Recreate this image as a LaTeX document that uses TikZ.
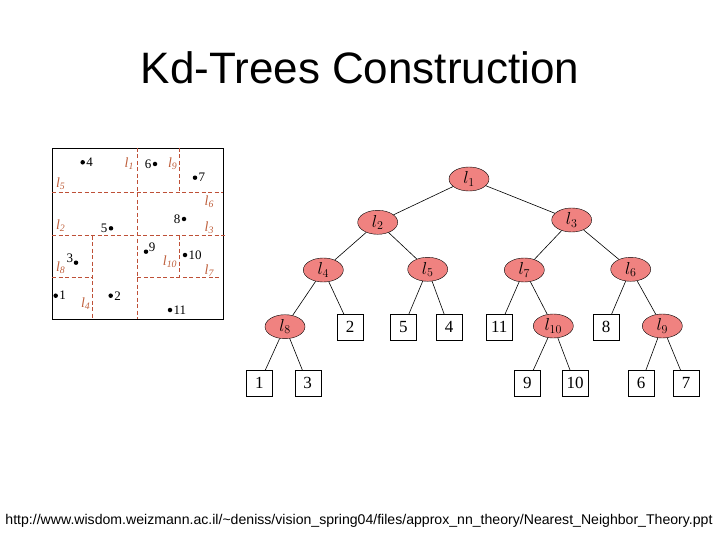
\documentclass[tikz,border=0pt]{standalone}
\usepackage{fontspec}
\setmainfont{Liberation Serif}
\newfontfamily\arialf{Liberation Sans}
\usetikzlibrary{shapes.geometric}
\definecolor{salmon}{RGB}{240,130,128}
\definecolor{cutline}{RGB}{190,80,55}
\definecolor{cutlabel}{RGB}{190,95,60}
\tikzset{
  inode/.style={ellipse,draw=black,fill=salmon,minimum width=40pt,minimum height=24pt,inner sep=0pt,font=\fontsize{18}{18}\selectfont},
  leaf/.style={rectangle,draw=black,fill=white,minimum width=26pt,minimum height=26pt,inner sep=0pt,font=\fontsize{17}{17}\selectfont},
  edge/.style={draw=black,line width=0.6pt},
  cut/.style={draw=cutline,line width=0.9pt,dash pattern=on 4pt off 2.5pt},
  cutlab/.style={text=cutlabel,font=\fontsize{14}{14}\selectfont\itshape,inner sep=0pt},
  pt/.style={circle,fill=black,inner sep=0pt,minimum size=4.5pt},
  ptlab/.style={font=\fontsize{13}{13}\selectfont,inner sep=1pt}
}
\begin{document}
\begin{tikzpicture}[x=1pt,y=-1pt]
\useasboundingbox (0,0) rectangle (720,540);
\node (title) at (360,68) {\arialf\fontsize{44}{44}\selectfont Kd-Trees Construction};
\node (url) at (359,521) {\arialf\fontsize{14.1}{14.1}\selectfont http://www.wisdom.weizmann.ac.il/\textasciitilde deniss/vision\_spring04/files/approx\_nn\_theory/Nearest\_Neighbor\_Theory.ppt};

% left partition
\draw[line width=0.8pt] (52,148) rectangle (223,319);
\draw[cut] (137.3,148) -- (137.3,319);
\draw[cut] (52,192.3) -- (223,192.3);
\draw[cut] (52,235.7) -- (224.5,235.7);
\draw[cut] (179.3,148) -- (179.3,192.3);
\draw[cut] (92.3,235.7) -- (92.3,319);
\draw[cut] (52,277) -- (92.3,277);
\draw[cut] (179.3,235.7) -- (179.3,277.7);
\draw[cut] (137.3,277.7) -- (220,277.7);

\node[cutlab] (c1) at (129.3,164) {l\textsubscript{1}};
\node[cutlab] (c9) at (172.7,164) {l\textsubscript{9}};
\node[cutlab] (c5) at (60.7,183.3) {l\textsubscript{5}};
\node[cutlab] (c6) at (209.3,201.7) {l\textsubscript{6}};
\node[cutlab] (c2) at (60.7,226) {l\textsubscript{2}};
\node[cutlab] (c3) at (209.3,227.3) {l\textsubscript{3}};
\node[cutlab] (c8) at (60.7,267.7) {l\textsubscript{8}};
\node[cutlab] (c10) at (170,261.7) {l\textsubscript{10}};
\node[cutlab] (c7) at (209.3,270.7) {l\textsubscript{7}};
\node[cutlab] (c4) at (85.7,304) {l\textsubscript{4}};

\node[pt] (p4) at (82.7,162.3) {}; \node[ptlab,anchor=west] (q4) at (p4.east) {4};
\node[pt] (p6) at (155,164) {}; \node[ptlab,anchor=east] (q6) at (p6.west) {6};
\node[pt] (p7) at (195,177.7) {}; \node[ptlab,anchor=west] (q7) at (p7.east) {7};
\node[pt] (p8) at (184,219) {}; \node[ptlab,anchor=east] (q8) at (p8.west) {8};
\node[pt] (p5) at (111,228.3) {}; \node[ptlab,anchor=east] (q5) at (p5.west) {5};
\node[pt] (p9) at (146,251.7) {}; \node[ptlab,anchor=south west,inner sep=0.3pt] (q9) at (p9.east) {9};
\node[pt] (p10) at (185,255) {}; \node[ptlab,anchor=west] (q10) at (p10.east) {10};
\node[pt] (p3) at (76,262.7) {}; \node[ptlab,anchor=south east,inner sep=0.3pt] (q3) at (p3.west) {3};
\node[pt] (p1) at (55.7,295.7) {}; \node[ptlab,anchor=west] (q1) at (p1.east) {1};
\node[pt] (p2) at (110.7,295.7) {}; \node[ptlab,anchor=west] (q2) at (p2.east) {2};
\node[pt] (p11) at (170,310) {}; \node[ptlab,anchor=west] (q11) at (p11.east) {11};

% tree
\node[inode] (l1) at (469,179) {$l_1$};
\node[inode] (l2) at (377.7,222.3) {$l_2$};
\node[inode] (l3) at (571.7,220) {$l_3$};
\node[inode] (l4) at (323.3,270) {$l_4$};
\node[inode] (l5) at (427.7,269.3) {$l_5$};
\node[inode] (l7) at (524.3,270) {$l_7$};
\node[inode] (l6) at (630.7,269.3) {$l_6$};
\node[inode] (l8) at (285,326.7) {$l_8$};
\node[inode] (l10) at (553.3,326) {$l_{10}$};
\node[inode] (l9) at (662.3,326) {$l_9$};
\node[leaf] (n2) at (350,327.3) {2};
\node[leaf] (n5) at (403.3,327.3) {5};
\node[leaf] (n4) at (449,327.3) {4};
\node[leaf] (n11) at (499.3,327.3) {11};
\node[leaf] (n8) at (606,327.3) {8};
\node[leaf] (n1) at (259.3,383.3) {1};
\node[leaf] (n3) at (307.7,383.3) {3};
\node[leaf] (n9) at (527.3,383.3) {9};
\node[leaf] (n10) at (575,383.3) {10};
\node[leaf] (n6) at (641,383.3) {6};
\node[leaf] (n7) at (686,383.3) {7};

\draw[edge] (l1) -- (l2);
\draw[edge] (l1) -- (l3);
\draw[edge] (l2) -- (l4);
\draw[edge] (l2) -- (l5);
\draw[edge] (l3) -- (l7);
\draw[edge] (l3) -- (l6);
\draw[edge] (l4) -- (l8);
\draw[edge] (l4) -- (n2);
\draw[edge] (l5) -- (n5);
\draw[edge] (l5) -- (n4);
\draw[edge] (l7) -- (n11);
\draw[edge] (l7) -- (l10);
\draw[edge] (l6) -- (n8);
\draw[edge] (l6) -- (l9);
\draw[edge] (l8) -- (n1);
\draw[edge] (l8) -- (n3);
\draw[edge] (l10) -- (n9);
\draw[edge] (l10) -- (n10);
\draw[edge] (l9) -- (n6);
\draw[edge] (l9) -- (n7);
\end{tikzpicture}
\end{document}
